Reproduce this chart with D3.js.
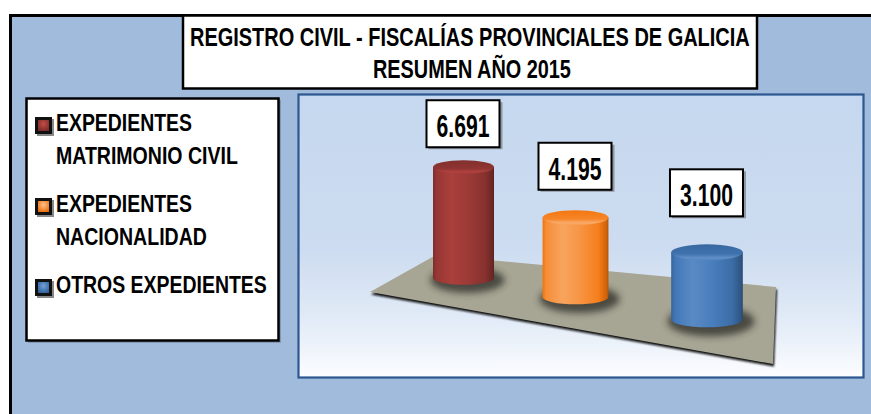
<!DOCTYPE html>
<html>
<head>
<meta charset="utf-8">
<script src="https://cdn.jsdelivr.net/npm/d3@7"></script>
<style>
  html, body { margin: 0; padding: 0; background: #ffffff; }
  svg { display: block; }
  text { font-family: "Liberation Sans", Arial, sans-serif; font-weight: bold; fill: #000; }
</style>
</head>
<body>
<svg id="chart" width="871" height="414"></svg>
<script>
// ---------------- DATA ----------------
const titleLines = ["REGISTRO CIVIL -  FISCALÍAS PROVINCIALES DE GALICIA", "RESUMEN AÑO 2015"];
const categories = ["EXPEDIENTES MATRIMONIO CIVIL", "EXPEDIENTES NACIONALIDAD", "OTROS EXPEDIENTES"];
const values = [6691, 4195, 3100];
const legendLines = [["EXPEDIENTES", "MATRIMONIO CIVIL"], ["EXPEDIENTES", "NACIONALIDAD"], ["OTROS EXPEDIENTES"]];
const seriesColors = ["#9e3a37", "#f79646", "#4a7fbe"];

// ---------------- SETUP ----------------
const svg = d3.select("#chart");
const defs = svg.append("defs");
const esFormat = d3.formatLocale({ decimal: ",", thousands: ".", grouping: [3], currency: ["", " €"] }).format(",d");

// place a text so that it spans a given width (horizontal condensing like a narrow font)
function fitText(sel, x, y, len, size, sy) {
  sel.attr("font-size", size).attr("x", 0).attr("y", 0);
  const w = sel.node().getComputedTextLength();
  sel.attr("transform", `translate(${x},${y}) scale(${len / w},${sy || 1})`);
}

// outer background
svg.append("rect").attr("x", 10).attr("y", 15).attr("width", 870).attr("height", 410).attr("fill", "#a0bbdc");
svg.append("path").attr("d", "M10.5,420 L10.5,15.5 L880,15.5").attr("fill", "none").attr("stroke", "#000").attr("stroke-width", 3);

// title box
svg.append("rect").attr("x", 183).attr("y", 15.5).attr("width", 574).attr("height", 73)
  .attr("fill", "#fff").attr("stroke", "#000").attr("stroke-width", 2.5);
const titleSpec = [{ y: 46, x: 190, len: 560 }, { y: 78, x: 373, len: 198 }];
svg.selectAll("text.title").data(titleLines).join("text").attr("class", "title").text(d => d)
  .each(function (d, i) { fitText(d3.select(this), titleSpec[i].x, titleSpec[i].y, titleSpec[i].len, 25, 1.03); });

// legend box
svg.append("rect").attr("x", 28).attr("y", 100).attr("width", 253).attr("height", 243).attr("fill", "#6d7f96").attr("opacity", 0.6);
svg.append("rect").attr("x", 26.5).attr("y", 98.5).attr("width", 252).attr("height", 242)
  .attr("fill", "#fff").attr("stroke", "#000").attr("stroke-width", 2.5);

// gradients for markers & cylinders
function shade(c, k) { const h = d3.hsl(c); h.l = Math.max(0, Math.min(1, h.l * k)); return h.formatHex(); }
seriesColors.forEach((c, i) => {
  const g = defs.append("linearGradient").attr("id", "side" + i).attr("x1", 0).attr("x2", 1).attr("y1", 0).attr("y2", 0);
  [[0, 0.8], [0.06, 0.95], [0.3, 1.08], [0.55, 1.0], [0.85, 0.86], [0.97, 0.68], [1, 0.58]].forEach(([o, k]) =>
    g.append("stop").attr("offset", o).attr("stop-color", shade(c, k)));
  const t = defs.append("linearGradient").attr("id", "top" + i).attr("x1", 0).attr("x2", 0).attr("y1", 0).attr("y2", 1);
  [[0, 0.82], [0.6, 0.9], [0.85, 1.12], [1, 1.04]].forEach(([o, k]) =>
    t.append("stop").attr("offset", o).attr("stop-color", shade(c, k)));
  const m = defs.append("radialGradient").attr("id", "mk" + i).attr("cx", 0.5).attr("cy", 0.35).attr("r", 0.7);
  [[0, 1.25], [0.5, 1.0], [1, 0.75]].forEach(([o, k]) =>
    m.append("stop").attr("offset", o).attr("stop-color", shade(c, k)));
});

// legend entries
const legendBase = [131, 212, 293];
const legendLens = [[136, 182], [136, 151], [211]];
const leg = svg.selectAll("g.leg").data(categories).join("g").attr("class", "leg");
leg.append("rect").attr("x", 37).attr("y", (d, i) => legendBase[i] - 12).attr("width", 17).attr("height", 17).attr("fill", "#888");
leg.append("rect").attr("x", 35).attr("y", (d, i) => legendBase[i] - 14).attr("width", 17).attr("height", 17).attr("fill", "#111");
leg.append("rect").attr("x", 38).attr("y", (d, i) => legendBase[i] - 11).attr("width", 11).attr("height", 11).attr("fill", (d, i) => `url(#mk${i})`);
leg.each(function (d, i) {
  d3.select(this).selectAll("text").data(legendLines[i]).join("text").text(t => t)
    .each(function (t, j) { fitText(d3.select(this), 56, legendBase[i] + j * 33, legendLens[i][j], 22.5, 1.05); });
});

// plot area
const pa = defs.append("linearGradient").attr("id", "plotbg").attr("x1", 0).attr("x2", 0).attr("y1", 0).attr("y2", 1);
[[0, "#c5d8ef"], [0.55, "#cddcf0"], [0.8, "#e2ebf7"], [1, "#fcfdff"]].forEach(([o, c]) => pa.append("stop").attr("offset", o).attr("stop-color", c));
svg.append("rect").attr("x", 298.5).attr("y", 94.5).attr("width", 565).attr("height", 283)
  .attr("fill", "url(#plotbg)").attr("stroke", "#2c5790").attr("stroke-width", 2.2);

// floor (decorative 3D base)
const floorPts = [[370, 292], [436, 255], [776, 287], [773, 364]];
const blur2 = defs.append("filter").attr("id", "blur2").attr("x", "-50%").attr("y", "-50%").attr("width", "200%").attr("height", "200%");
blur2.append("feGaussianBlur").attr("stdDeviation", 0.8);
svg.append("polygon").attr("points", floorPts.map(p => [p[0] + 1, p[1] + 2.5].join(",")).join(" "))
  .attr("fill", "#111").attr("filter", "url(#blur2)");
svg.append("polygon").attr("points", floorPts.map(p => p.join(",")).join(" ")).attr("fill", "#a7a694");

// ---------------- 3D CYLINDERS via scales ----------------
const depth = d3.scalePoint().domain(categories).range([0, 2]);
const C = 0.0741;
const persp = u => 1 / (1 - C * u);
const xProj = d3.scaleLinear().domain([0, 1]).range([463.5, 463.5 + 103.7]);
const baseProj = d3.scaleLinear().domain([0, 1]).range([278, 278 + 17.6]);
const hScale = d3.scaleLinear().domain([0, 7000]).range([10.6, 115.6]);

const bars = categories.map((c, i) => {
  const u = depth(c), s = persp(u);
  const cx = xProj(u * s);
  const base = baseProj(u * s);
  const h = hScale(values[i]) * s;
  return { c, i, u, s, cx, base, top: base - h, rx: 30.5 * s, ry: 6.8 * s, v: values[i] };
});

const shBlur = defs.append("filter").attr("id", "shblur").attr("x", "-50%").attr("y", "-50%").attr("width", "200%").attr("height", "200%");
shBlur.append("feGaussianBlur").attr("stdDeviation", 3.5);

const cyl = svg.selectAll("g.cyl").data(bars).join("g").attr("class", "cyl");
cyl.append("ellipse").attr("cx", d => d.cx + 4).attr("cy", d => d.base + 2)
  .attr("rx", d => d.rx * 1.22).attr("ry", d => d.ry * 1.9).attr("fill", "#2b2b25").attr("opacity", 0.75).attr("filter", "url(#shblur)");
cyl.append("path")
  .attr("d", d => `M${d.cx - d.rx},${d.top} L${d.cx - d.rx},${d.base} A${d.rx},${d.ry} 0 0 0 ${d.cx + d.rx},${d.base} L${d.cx + d.rx},${d.top} Z`)
  .attr("fill", d => `url(#side${d.i})`);
cyl.append("ellipse").attr("cx", d => d.cx).attr("cy", d => d.top).attr("rx", d => d.rx).attr("ry", d => d.ry)
  .attr("fill", d => `url(#top${d.i})`);

// value labels
const lbl = svg.selectAll("g.lbl").data(bars).join("g").attr("class", "lbl")
  .attr("transform", d => `translate(${d.cx},${d.top - d.ry - (13 + 7.5 * d.u)})`);
lbl.append("rect").attr("x", -35).attr("y", -45).attr("width", 74).attr("height", 47).attr("fill", "#555").attr("opacity", 0.5);
lbl.append("rect").attr("x", -37).attr("y", -47).attr("width", 73).attr("height", 47)
  .attr("fill", "#fff").attr("stroke", "#000").attr("stroke-width", 2);
lbl.append("text").text(d => esFormat(d.v))
  .each(function () { fitText(d3.select(this), -27, -10, 53, 32); });
</script>
</body>
</html>
